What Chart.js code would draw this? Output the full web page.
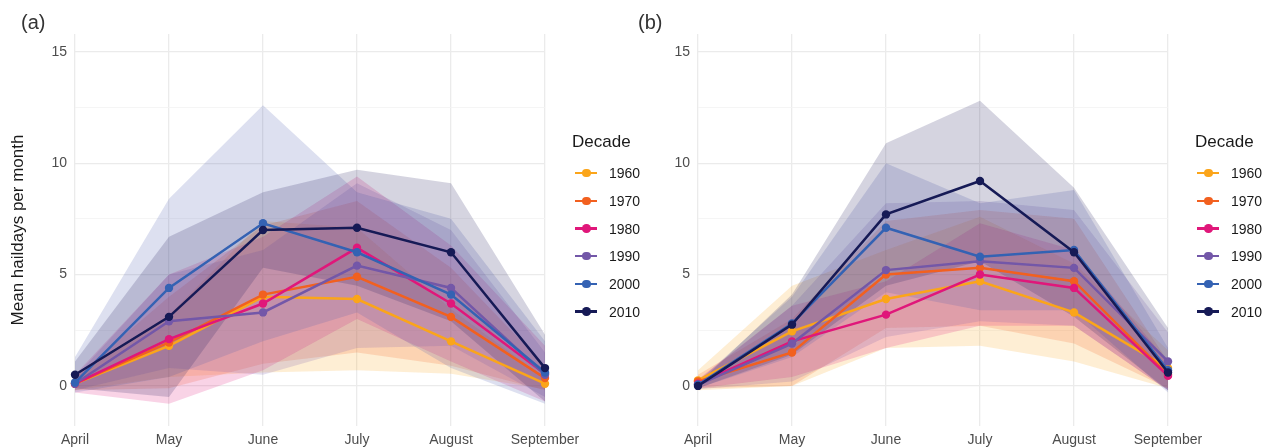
<!DOCTYPE html>
<html>
<head>
<meta charset="utf-8">
<script src="https://cdn.jsdelivr.net/npm/chart.js@4/dist/chart.umd.min.js"></script>
<style>
  html, body { margin: 0; padding: 0; background: #fff; }
  body { width: 1264px; height: 448px; position: relative; overflow: hidden; font-family: "Liberation Sans", Arial, sans-serif; }
  canvas { position: absolute; top: 0; }
  #ca { left: 0; }
  #cb { left: 620px; }
  .plabel { position: absolute; font-size: 20px; color: #333; line-height: 20px; }
  .legend { position: absolute; top: 0; }
  .ltitle { position: absolute; font-size: 17px; color: #1a1a1a; line-height: 20px; white-space: nowrap; }
  .litem { position: absolute; height: 20px; white-space: nowrap; }
  .lkey { position: absolute; top: 8.8px; left: 0; width: 22px; height: 2.5px; }
  .ldot { position: absolute; top: 5.8px; left: 7px; width: 8.5px; height: 8.5px; border-radius: 50%; }
  .ltext { position: absolute; left: 34px; top: 1px; font-size: 14px; color: #1a1a1a; line-height: 18px; }
</style>
</head>
<body>
<canvas id="ca" width="620" height="448"></canvas>
<canvas id="cb" width="644" height="448"></canvas>
<div class="plabel" style="left:21px; top:12px;">(a)</div>
<div class="plabel" style="left:638px; top:12px;">(b)</div>
<div id="legA" class="legend"></div>
<div id="legB" class="legend"></div>
<script>
const months = ['April', 'May', 'June', 'July', 'August', 'September'];
const decades = ['1960', '1970', '1980', '1990', '2000', '2010'];
const colors = ['#FBA51A', '#F2601F', '#E0177A', '#7357A8', '#3462B3', '#161A56'];
const bandColors = ['#FBA51A', '#F2601F', '#E0177A', '#7357A8', '#4A5BAE', '#1E1C58'];
const yTickValues = [0, 2.5, 5, 7.5, 10, 12.5, 15];

// Panel (a): mean hail days per month
const meanA1960 = [0.1, 1.8, 4.0, 3.9, 2.0, 0.1];
const meanA1970 = [0.1, 1.95, 4.1, 4.9, 3.1, 0.35];
const meanA1980 = [0.1, 2.1, 3.7, 6.2, 3.7, 0.55];
const meanA1990 = [0.1, 2.9, 3.3, 5.4, 4.4, 0.5];
const meanA2000 = [0.15, 4.4, 7.3, 6.0, 4.1, 0.6];
const meanA2010 = [0.5, 3.1, 7.0, 7.1, 6.0, 0.8];
// Panel (a): ribbon lower / upper
const lowA1960 = [-0.2, 0.4, 0.6, 0.7, 0.55, -0.15];
const highA1960 = [0.4, 3.2, 7.4, 7.1, 3.45, 0.35];
const lowA1970 = [-0.2, -0.1, 1.0, 1.5, 0.9, -0.2];
const highA1970 = [0.4, 4.0, 7.2, 8.3, 5.3, 0.9];
const lowA1980 = [-0.3, -0.8, 0.7, 3.0, 1.1, -0.7];
const highA1980 = [0.5, 5.0, 6.7, 9.4, 6.3, 1.8];
const lowA1990 = [-0.2, 0.8, 0.5, 1.7, 1.8, -0.5];
const highA1990 = [0.4, 5.0, 6.1, 9.1, 7.0, 1.5];
const lowA2000 = [-0.3, 0.4, 2.0, 3.3, 0.8, -0.8];
const highA2000 = [1.3, 8.4, 12.6, 8.7, 7.5, 2.0];
const lowA2010 = [-0.1, -0.5, 5.3, 4.5, 2.9, -0.7];
const highA2010 = [1.1, 6.7, 8.7, 9.7, 9.1, 2.3];

// Panel (b): mean hail days per month
const meanB1960 = [0.25, 2.45, 3.9, 4.7, 3.3, 0.8];
const meanB1970 = [0.2, 1.5, 5.0, 5.3, 4.7, 0.5];
const meanB1980 = [0.1, 2.0, 3.2, 5.0, 4.4, 0.45];
const meanB1990 = [0.05, 1.9, 5.2, 5.6, 5.3, 1.1];
const meanB2000 = [0.05, 2.8, 7.1, 5.8, 6.1, 0.7];
const meanB2010 = [0.0, 2.75, 7.7, 9.2, 6.0, 0.6];
// Panel (b): ribbon lower / upper
const lowB1960 = [-0.2, 0.0, 1.7, 1.8, 1.1, -0.1];
const highB1960 = [0.7, 4.5, 6.1, 7.6, 5.5, 1.6];
const lowB1970 = [-0.1, 0.0, 2.6, 2.7, 1.9, -0.1];
const highB1970 = [0.5, 3.0, 7.4, 7.9, 7.5, 1.1];
const lowB1980 = [-0.1, 0.4, 1.7, 2.7, 2.7, -0.2];
const highB1980 = [0.3, 3.6, 4.7, 7.3, 6.1, 1.1];
const lowB1990 = [-0.15, 0.2, 2.2, 2.9, 2.7, -0.2];
const highB1990 = [0.25, 3.6, 8.2, 8.3, 7.9, 2.4];
const lowB2000 = [-0.1, 1.3, 4.2, 3.4, 3.4, -0.3];
const highB2000 = [0.2, 4.0, 10.0, 8.2, 8.8, 1.7];
const lowB2010 = [-0.1, 1.4, 4.5, 5.6, 3.1, -0.2];
const highB2010 = [0.1, 4.1, 10.9, 12.8, 8.9, 2.6];

const panelA = {
  means: [meanA1960, meanA1970, meanA1980, meanA1990, meanA2000, meanA2010],
  lows: [lowA1960, lowA1970, lowA1980, lowA1990, lowA2000, lowA2010],
  highs: [highA1960, highA1970, highA1980, highA1990, highA2000, highA2010]
};
const panelB = {
  means: [meanB1960, meanB1970, meanB1980, meanB1990, meanB2000, meanB2010],
  lows: [lowB1960, lowB1970, lowB1980, lowB1990, lowB2000, lowB2010],
  highs: [highB1960, highB1970, highB1980, highB1990, highB2000, highB2010]
};

function hexA(hex, a) {
  const n = parseInt(hex.slice(1), 16);
  return `rgba(${(n >> 16) & 255},${(n >> 8) & 255},${n & 255},${a})`;
}

function buildDatasets(p) {
  const ds = [];
  decades.forEach((d, i) => {
    ds.push({
      label: d, data: p.means[i], borderColor: colors[i], backgroundColor: colors[i],
      borderWidth: 2.5, pointRadius: 4.2, pointBorderWidth: 0, pointHoverRadius: 4.2,
      tension: 0, fill: false, clip: false, order: 5 - i
    });
  });
  decades.forEach((d, i) => {
    ds.push({
      label: d + ' upper', data: p.highs[i], borderWidth: 0, borderColor: 'rgba(0,0,0,0)',
      pointRadius: 0, backgroundColor: hexA(bandColors[i], 0.19), fill: '+1', tension: 0, order: 20 - i
    });
    ds.push({
      label: d + ' lower', data: p.lows[i], borderWidth: 0, borderColor: 'rgba(0,0,0,0)',
      pointRadius: 0, backgroundColor: 'rgba(0,0,0,0)', fill: false, tension: 0, order: 20 - i
    });
  });
  return ds;
}

function makeChart(id, p, yWidth, padRight, showTitle) {
  return new Chart(document.getElementById(id), {
    type: 'line',
    data: { labels: months, datasets: buildDatasets(p) },
    options: {
      responsive: false, animation: false, devicePixelRatio: 1,
      layout: { padding: { left: 0, right: padRight, top: 34, bottom: 0 } },
      plugins: { legend: { display: false }, tooltip: { enabled: false }, filler: { propagate: false } },
      scales: {
        x: {
          type: 'category', offset: false,
          grid: { color: '#EBEBEB', lineWidth: 1.3, drawTicks: false },
          border: { display: false },
          ticks: { font: { size: 14, family: 'Liberation Sans' }, color: '#4D4D4D', padding: 6, maxRotation: 0, autoSkip: false },
          afterFit: s => { s.height = 22; }
        },
        y: {
          min: -1.8, max: 15.8,
          afterBuildTicks: s => { s.ticks = yTickValues.map(v => ({ value: v })); },
          grid: {
            drawTicks: false,
            color: c => (c.tick && c.tick.value % 5 === 0) ? '#EBEBEB' : '#F3F3F3',
            lineWidth: c => (c.tick && c.tick.value % 5 === 0) ? 1.3 : 0.8
          },
          border: { display: false },
          ticks: {
            font: { size: 14, family: 'Liberation Sans' }, color: '#4D4D4D', padding: 8,
            callback: v => (v % 5 === 0 ? String(v) : '')
          },
          title: {
            display: showTitle, text: 'Mean haildays per month', color: '#1A1A1A',
            font: { size: 17, family: 'Liberation Sans' }, padding: { top: 8, bottom: 0 }
          },
          afterFit: s => { s.width = yWidth; }
        }
      }
    }
  });
}

makeChart('ca', panelA, 75, 75, true);
makeChart('cb', panelB, 78, 96, false);

function buildLegend(id, titleLeft, keyLeft) {
  const el = document.getElementById(id);
  const t = document.createElement('div');
  t.className = 'ltitle';
  t.style.left = titleLeft + 'px';
  t.style.top = '132px';
  t.textContent = 'Decade';
  el.appendChild(t);
  const ys = [173, 201, 228.5, 256, 284, 311.5];
  decades.forEach((d, i) => {
    const it = document.createElement('div');
    it.className = 'litem';
    it.style.left = keyLeft + 'px';
    it.style.top = (ys[i] - 10) + 'px';
    it.innerHTML = `<div class="lkey" style="background:${colors[i]}"></div>` +
      `<div class="ldot" style="background:${colors[i]}"></div>` +
      `<div class="ltext">${d}</div>`;
    el.appendChild(it);
  });
}
buildLegend('legA', 572, 575);
buildLegend('legB', 1195, 1197);
</script>
</body>
</html>
